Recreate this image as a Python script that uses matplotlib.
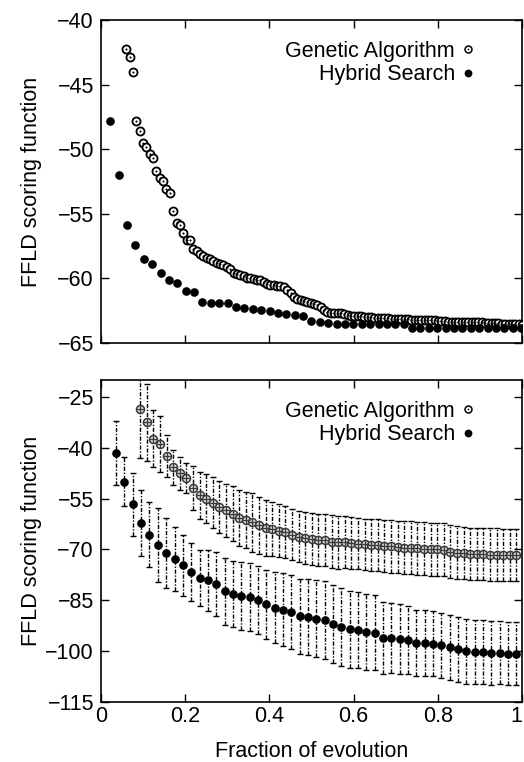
import matplotlib
matplotlib.use('Agg')
import matplotlib.pyplot as plt
import numpy as np
from matplotlib.lines import Line2D
from matplotlib.legend_handler import HandlerTuple

plt.rcParams['font.family'] = ['Liberation Sans', 'DejaVu Sans']
plt.rcParams['font.size'] = 15.5

# ---------------- data: top panel (best score) ----------------
ga_top_x = np.linspace(0.06, 1.0, 119)
ga_top_y = [
    -42.27, -42.9, -44.05, -47.8, -48.6, -49.5, -49.8, -50.4, -50.7, -51.7,
    -52.2, -52.5, -53.1, -53.4, -54.8, -55.7, -55.9, -56.5, -57.0, -57.0,
    -57.75, -57.85, -58.1, -58.3, -58.4, -58.5, -58.65, -58.8, -58.85, -58.95,
    -59.1, -59.3, -59.6, -59.65, -59.75, -59.85, -59.95, -60.0, -60.05, -60.1,
    -60.12, -60.3, -60.45, -60.5, -60.55, -60.56, -60.6, -60.65, -60.9, -61.15,
    -61.45, -61.6, -61.65, -61.75, -61.8, -61.88, -61.98, -62.05, -62.2, -62.45,
    -62.6, -62.65, -62.65, -62.7, -62.7, -62.75, -62.85, -62.9, -62.9, -62.95,
    -62.95, -63.0, -63.0, -63.0, -63.05, -63.1, -63.1, -63.1, -63.1, -63.12,
    -63.12, -63.12, -63.15, -63.15, -63.15, -63.2, -63.22, -63.22, -63.22, -63.25,
    -63.25, -63.25, -63.25, -63.27, -63.3, -63.33, -63.35, -63.35, -63.35, -63.35,
    -63.36, -63.36, -63.37, -63.37, -63.38, -63.38, -63.4, -63.45, -63.46, -63.47,
    -63.48, -63.48, -63.5, -63.5, -63.5, -63.52, -63.52, -63.55, -63.6,
]
hs_top_x = np.linspace(0.022, 0.998, 50)
hs_top_y = [
    -47.82, -52.02, -55.89, -57.39, -58.5, -58.86, -59.56, -60.12, -60.33, -60.97,
    -61.03, -61.83, -61.87, -61.9, -61.92, -62.24, -62.32, -62.37, -62.45, -62.5,
    -62.7, -62.78, -62.86, -62.88, -63.27, -63.35, -63.48, -63.53, -63.53, -63.5,
    -63.5, -63.53, -63.53, -63.53, -63.53, -63.53, -63.81, -63.82, -63.82, -63.83,
    -63.83, -63.84, -63.84, -63.85, -63.85, -63.85, -63.86, -63.86, -63.86, -63.86,
]

# ---------------- data: bottom panel (average score +/- sd) ----------------
ga_bot_x = np.linspace(0.093, 0.987, 58)
ga_bot_y = [
    -28.5, -32.45, -37.35, -38.9, -42.45, -45.8, -47.55, -48.9, -51.85, -54.0,
    -55.0, -56.2, -57.45, -58.4, -59.4, -60.7, -61.3, -62.0, -62.9, -63.6,
    -63.9, -64.4, -64.9, -65.6, -66.2, -66.7, -66.9, -67.2, -67.2, -67.65,
    -67.85, -67.9, -68.1, -68.3, -68.5, -68.6, -68.7, -68.9, -69.1, -69.3,
    -69.5, -69.5, -69.6, -69.8, -69.9, -70.0, -70.1, -70.6, -70.9, -71.1,
    -71.3, -71.3, -71.4, -71.5, -71.5, -71.6, -71.6, -71.6,
]
ga_bot_err = [
    14.4, 11.3, 8.4, 8.2, 6.1, 5.2, 4.8, 4.5, 6.5, 7.0,
    7.3, 7.5, 7.6, 7.8, 8.0, 8.2, 8.4, 8.6, 8.4, 8.2,
    8.0, 7.8, 7.7, 7.6, 7.6, 7.7, 7.8, 7.8, 7.7, 7.8,
    7.8, 7.7, 7.6, 7.6, 7.6, 7.6, 7.6, 7.6, 7.7, 7.7,
    7.8, 7.8, 7.8, 7.8, 7.8, 7.8, 7.8, 7.7, 7.7, 7.7,
    7.7, 7.7, 7.7, 7.7, 7.7, 7.7, 7.7, 7.7,
]
hs_bot_x = np.linspace(0.036, 0.987, 49)
hs_bot_y = [
    -41.56, -50.0, -56.7, -62.15, -65.7, -68.7, -71.1, -72.85, -74.7, -76.7,
    -78.4, -79.1, -80.1, -82.35, -83.2, -83.8, -84.0, -84.8, -86.2, -87.2,
    -87.75, -88.4, -89.7, -90.0, -90.4, -90.8, -92.06, -92.85, -93.6, -93.8,
    -94.3, -94.5, -96.0, -96.1, -96.3, -96.6, -97.55, -97.65, -97.75, -98.3,
    -98.9, -99.5, -100.0, -100.2, -100.3, -100.5, -100.5, -100.7, -100.8,
]
hs_bot_err = [
    9.5, 7.3, 9.4, 9.7, 9.6, 10.8, 10.3, 9.5, 9.0, 8.5,
    8.2, 9.0, 9.5, 9.8, 9.8, 10.0, 10.0, 10.0, 10.2, 10.5,
    10.8, 11.0, 11.0, 11.2, 11.3, 11.4, 11.5, 11.5, 11.4, 11.3,
    11.2, 11.0, 10.6, 10.4, 10.3, 10.0, 9.8, 9.7, 9.6, 9.6,
    9.6, 9.6, 9.6, 9.5, 9.4, 9.4, 9.3, 9.3, 9.3,
]

labels = ['Genetic Algorithm', 'Hybrid Search']
xticks = [0, 0.2, 0.4, 0.6, 0.8, 1]
xticklabels = ['0', '0.2', '0.4', '0.6', '0.8', '1']
top_yticks = [-65, -60, -55, -50, -45, -40]
bot_yticks = [-115, -100, -85, -70, -55, -40, -25]

# ---------------- figure ----------------
fig = plt.figure(figsize=(5.24, 7.62), dpi=100)
ax1 = fig.add_axes([0.1927, 0.5499, 0.8034, 0.4239])
ax2 = fig.add_axes([0.1927, 0.0787, 0.8034, 0.4226])

# top panel
ax1.plot(ga_top_x, ga_top_y, ls='none', marker='o', ms=5.8, mfc='white',
         mec='black', mew=1.3, zorder=3)
ax1.plot(ga_top_x, ga_top_y, ls='none', marker='o', ms=1.5, mfc='black',
         mew=0, zorder=4)
ax1.plot(hs_top_x, hs_top_y, ls='none', marker='o', ms=5.2, mfc='black',
         mec='black', zorder=3)

# bottom panel
dashdot = (0, (3, 1.2, 1, 1.2))
e1 = ax2.errorbar(ga_bot_x, ga_bot_y, yerr=ga_bot_err, fmt='none', ecolor='black',
                  elinewidth=1.0, capsize=2.2, capthick=1.0, zorder=1)
e1[2][0].set_linestyle(dashdot)
e2 = ax2.errorbar(hs_bot_x, hs_bot_y, yerr=hs_bot_err, fmt='none', ecolor='black',
                  elinewidth=1.0, capsize=2.2, capthick=1.0, zorder=1)
e2[2][0].set_linestyle(dashdot)
ax2.plot(ga_bot_x, ga_bot_y, ls='none', marker='o', ms=5.8, mfc='#d8d8d8',
         mec='#3a3a3a', mew=1.1, zorder=3)
ax2.plot(ga_bot_x, ga_bot_y, ls='none', marker='+', ms=5.8, color='#3a3a3a',
         mew=0.9, zorder=4)
ax2.plot(hs_bot_x, hs_bot_y, ls='none', marker='o', ms=5.2, mfc='black',
         mec='black', zorder=3)

for ax, yt, ylim in [(ax1, top_yticks, (-65, -40)), (ax2, bot_yticks, (-115, -20))]:
    ax.set_xlim(0, 1)
    ax.set_ylim(*ylim)
    ax.set_yticks(yt)
    ax.set_xticks(xticks)
    ax.set_xticklabels(xticklabels)
    ax.tick_params(axis='both', direction='in', length=5.5, width=1.0,
                   top=True, right=True)
    ax.tick_params(axis='y', pad=5)
    ax.tick_params(axis='x', pad=3)
    for s in ax.spines.values():
        s.set_linewidth(1.2)
    ax.set_ylabel('FFLD scoring function')
    ax.yaxis.set_label_coords(-0.14, 0.5)

    ga_h = (Line2D([], [], ls='none', marker='o', ms=5.0, mfc='white', mec='black', mew=1.1),
            Line2D([], [], ls='none', marker='o', ms=1.3, mfc='black', mew=0))
    hs_h = Line2D([], [], ls='none', marker='o', ms=4.6, mfc='black', mec='black')
    ax.legend([ga_h, hs_h], labels, handler_map={tuple: HandlerTuple(ndivide=1)},
              markerfirst=False, frameon=False, loc='upper right',
              bbox_to_anchor=(0.887, 0.935), borderpad=0, borderaxespad=0,
              handlelength=0.6, handletextpad=0.3, labelspacing=0.1)

ax1.tick_params(axis='x', labelbottom=False)
last = ax2.get_xticklabels()[-1]
last.set_horizontalalignment('right')
ax2.set_xlabel('Fraction of evolution')
ax2.xaxis.set_label_coords(0.5, -0.12)

fig.savefig('out.png', dpi=100)
